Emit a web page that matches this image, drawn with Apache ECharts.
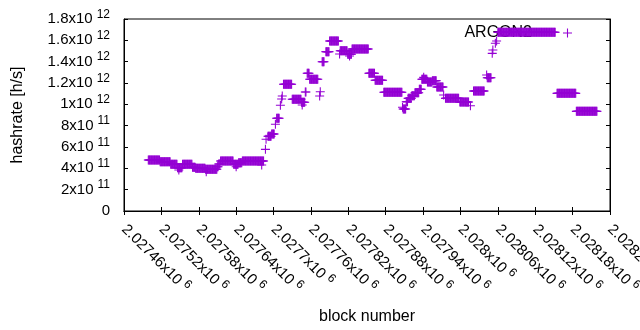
<!DOCTYPE html>
<html>
<head>
<meta charset="utf-8">
<script src="https://cdn.jsdelivr.net/npm/echarts@6/dist/echarts.min.js"></script>
<style>
  html, body { margin: 0; padding: 0; background: #fff; }
  #chart { width: 640px; height: 330px; }
</style>
</head>
<body>
<div id="chart"></div>
<script>
// runs of blocks with the same hashrate [h/s]
const runStart = [
  2027499, 2027518, 2027535, 2027546, 2027548, 2027554, 2027570, 2027575, 2027591, 2027592,
  2027610, 2027612, 2027615, 2027636, 2027640, 2027644, 2027650, 2027681, 2027687, 2027688,
  2027691, 2027697, 2027703, 2027705, 2027711, 2027713, 2027714, 2027716, 2027730, 2027745,
  2027746, 2027751, 2027754, 2027758, 2027774, 2027775, 2027778, 2027784, 2027790, 2027806,
  2027807, 2027819, 2027822, 2027826, 2027853, 2027863, 2027877, 2027907, 2027908, 2027913,
  2027916, 2027922, 2027927, 2027934, 2027938, 2027941, 2027947, 2027955, 2027962, 2027973,
  2027976, 2027999, 2028016, 2028021, 2028042, 2028043, 2028051, 2028052, 2028056, 2028058,
  2028060, 2028155, 2028186
];
const runEnd = [
  2027517, 2027534, 2027545, 2027553, 2027548, 2027569, 2027574, 2027590, 2027609, 2027592,
  2027611, 2027614, 2027635, 2027643, 2027640, 2027649, 2027684, 2027681, 2027687, 2027688,
  2027696, 2027701, 2027703, 2027709, 2027711, 2027713, 2027714, 2027729, 2027744, 2027750,
  2027746, 2027752, 2027757, 2027771, 2027774, 2027775, 2027781, 2027789, 2027804, 2027806,
  2027818, 2027825, 2027822, 2027852, 2027862, 2027875, 2027906, 2027907, 2027912, 2027915,
  2027921, 2027926, 2027933, 2027937, 2027946, 2027941, 2027954, 2027961, 2027972, 2027973,
  2027997, 2028013, 2028016, 2028038, 2028042, 2028049, 2028051, 2028052, 2028056, 2028058,
  2028152, 2028185, 2028219
];
const runValue = [
  478e9, 462e9, 438e9, 406e9, 384e9, 438e9, 410e9, 400e9, 391e9, 368e9,
  415e9, 440e9, 469e9, 438e9, 415e9, 453e9, 469e9, 431e9, 578e9, 672e9,
  700e9, 722e9, 813e9, 869e9, 991e9, 1050e9, 1078e9, 1188e9, 1047e9, 1019e9,
  994e9, 1116e9, 1291e9, 1235e9, 1078e9, 1118e9, 1400e9, 1494e9, 1594e9, 1472e9,
  1503e9, 1469e9, 1453e9, 1519e9, 1291e9, 1225e9, 1113e9, 972e9, 956e9, 1025e9,
  1056e9, 1081e9, 1109e9, 1141e9, 1235e9, 1253e9, 1209e9, 1222e9, 1163e9, 1088e9,
  1056e9, 1022e9, 987e9, 1125e9, 1275e9, 1250e9, 1478e9, 1509e9, 1572e9, 1594e9,
  1675e9, 1103e9, 934e9
];

const xMin = 2027460, xMax = 2028240, xStep = 60;
const yMin = 0, yMax = 1.8e12, yStep = 2e11;

const points = [];
runStart.forEach((s, i) => {
  for (let b = s; b <= runEnd[i]; b++) points.push([b, runValue[i]]);
});

const plus = 'path://M0,4.4h10v1.2h-10z M4.4,0h1.2v10h-1.2z';
const purple = '#9400d3';
const font = 'Liberation Sans, Arial, sans-serif';

const rich = {
  m: { fontSize: 15, fontFamily: font, color: '#000' },
  s: { fontSize: 12, fontFamily: font, color: '#000', padding: [0, 0, 9, 4] }
};

function yFmt(v) {
  if (v === 0) return '{m|0}';
  const e = Math.floor(Math.log10(v) + 1e-9);
  const m = parseFloat((v / Math.pow(10, e)).toFixed(3));
  return '{m|' + m + 'x10}{s|' + e + '}';
}
function xFmt(v) {
  return '{m|' + parseFloat((v / 1e6).toFixed(5)) + 'x10}{s|6}';
}

const chart = echarts.init(document.getElementById('chart'));
chart.setOption({
  animation: false,
  backgroundColor: '#fff',
  grid: {
    left: 124, right: 30, top: 19, bottom: 119,
    outerBoundsMode: 'none', containLabel: false,
    show: true, borderColor: '#000', borderWidth: 1
  },
  legend: {
    right: 63, top: 20, z: 1,
    align: 'right',
    itemWidth: 9, itemHeight: 9,
    textStyle: { fontSize: 16, fontFamily: font, color: '#000', padding: [0, 26, 0, 0] },
    data: [{ name: 'ARGON2', icon: plus }]
  },
  xAxis: [{
    type: 'value', min: xMin, max: xMax, interval: xStep,
    name: 'block number', nameLocation: 'middle', nameGap: 98,
    nameTextStyle: { fontSize: 16, fontFamily: font, color: '#000' },
    axisLine: { lineStyle: { color: '#000' } },
    axisTick: { inside: true, length: 4, lineStyle: { color: '#000' } },
    axisLabel: { rotate: -45, interval: 0, margin: 16, formatter: xFmt, rich: rich, showMaxLabel: true, showMinLabel: true, hideOverlap: false },
    splitLine: { show: false }
  }, {
    type: 'value', position: 'top', min: xMin, max: xMax, interval: xStep,
    axisLine: { lineStyle: { color: '#000' } },
    axisTick: { inside: true, length: 4, lineStyle: { color: '#000' } },
    axisLabel: { show: false }, splitLine: { show: false }
  }],
  yAxis: [{
    type: 'value', min: yMin, max: yMax, interval: yStep,
    name: 'hashrate [h/s]', nameLocation: 'middle', nameRotate: 90, nameGap: 98,
    nameTextStyle: { fontSize: 16, fontFamily: font, color: '#000' },
    axisLine: { show: true, lineStyle: { color: '#000' } },
    axisTick: { show: true, inside: true, length: 4, lineStyle: { color: '#000' } },
    axisLabel: { margin: 14, formatter: yFmt, rich: rich },
    splitLine: { show: false }
  }, {
    type: 'value', position: 'right', min: yMin, max: yMax, interval: yStep,
    axisLine: { show: true, lineStyle: { color: '#000' } },
    axisTick: { show: true, inside: true, length: 4, lineStyle: { color: '#000' } },
    axisLabel: { show: false }, splitLine: { show: false }
  }],
  series: [{
    name: 'ARGON2',
    type: 'scatter',
    z: 3,
    symbol: plus,
    symbolSize: 9,
    itemStyle: { color: purple, opacity: 1 },
    data: points
  }]
});
</script>
</body>
</html>
